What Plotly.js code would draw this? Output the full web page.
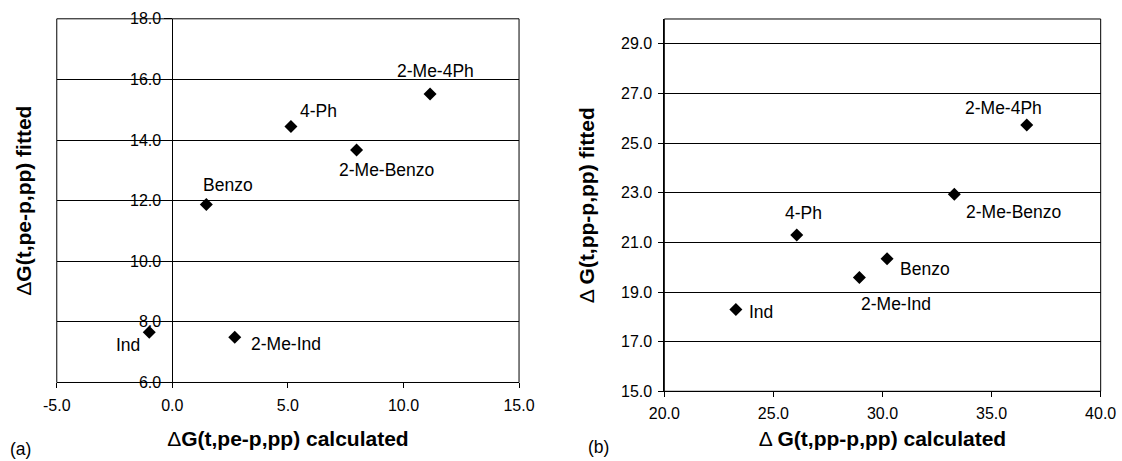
<!DOCTYPE html>
<html><head><meta charset="utf-8">
<script src="https://cdn.plot.ly/plotly-3.0.1.min.js"></script>
<style>html,body{margin:0;padding:0;background:#fff}#chart{width:1122px;height:461px}</style>
</head><body><div id="chart"></div>
<script>
// Panel (a)
const labelsA = ['Ind', '2-Me-Ind', 'Benzo', '4-Ph', '2-Me-Benzo', '2-Me-4Ph'];
const calcA = [-1.0, 2.7, 1.47, 5.13, 7.97, 11.15];
const fitA = [7.66, 7.49, 11.87, 14.45, 13.67, 15.52];
const xTickValsA = [-5, 0, 5, 10, 15];
const xTickTextA = ['-5.0', '0.0', '5.0', '10.0', '15.0'];
// Panel (b)
const labelsB = ['Ind', '4-Ph', '2-Me-Ind', 'Benzo', '2-Me-Benzo', '2-Me-4Ph'];
const calcB = [23.28, 26.07, 28.94, 30.21, 33.29, 36.61];
const fitB = [18.30, 21.30, 19.58, 20.34, 22.94, 25.73];

const xTitleA = 'Δ<b>G(t,pe-p,pp) calculated</b>';
const yTitleA = 'Δ<b>G(t,pe-p,pp) fitted</b>';
const xTitleB = 'Δ <b>G(t,pp-p,pp) calculated</b>';
const yTitleB = 'Δ <b>G(t,pp-p,pp) fitted</b>';

// label offsets in px (style only)
const offA = [[-21,-13],[51,-7],[22,20],[28,15],[30,-20],[5,23]];
const offB = [[25,-3],[7,22],[37,-26],[38,-10],[59,-18],[-23,17]];

const FONT = '"Liberation Sans", Arial, Helvetica, sans-serif';
const domXA = [0.0506, 0.4626], domYA = [0.1703, 0.9592];
const domXB = [0.5921, 0.9810], domYB = [0.1512, 0.9588];
const rangeXA = [-5, 15];
const yPosA = domXA[0] + (0 - rangeXA[0]) / (rangeXA[1] - rangeXA[0]) * (domXA[1] - domXA[0]);

const marker = {symbol: 'diamond', size: 10, color: '#000'};
const traces = [
  {x: calcA, y: fitA, text: labelsA, type: 'scatter', mode: 'markers', marker, xaxis: 'x', yaxis: 'y', cliponaxis: false, hoverinfo: 'text'},
  {x: calcB, y: fitB, text: labelsB, type: 'scatter', mode: 'markers', marker, xaxis: 'x2', yaxis: 'y2', cliponaxis: false, hoverinfo: 'text'}
];

const labelFont = {size: 17.5, color: '#000', family: FONT};
const annotations = [];
labelsA.forEach((t, i) => annotations.push({x: calcA[i], y: fitA[i], xref: 'x', yref: 'y', text: t, showarrow: false,
  xanchor: 'center', yanchor: 'middle', xshift: offA[i][0], yshift: offA[i][1], font: labelFont}));
labelsB.forEach((t, i) => annotations.push({x: calcB[i], y: fitB[i], xref: 'x2', yref: 'y2', text: t, showarrow: false,
  xanchor: 'center', yanchor: 'middle', xshift: offB[i][0], yshift: offB[i][1], font: labelFont}));
annotations.push({x: 0.0185, y: 0.027, xref: 'paper', yref: 'paper', text: '(a)', showarrow: false, xanchor: 'center', yanchor: 'middle', font: labelFont});
annotations.push({x: 0.5333, y: 0.03, xref: 'paper', yref: 'paper', text: '(b)', showarrow: false, xanchor: 'center', yanchor: 'middle', font: labelFont});

const tickfont = {size: 16, color: '#000', family: FONT};
const titlefont = {size: 21, color: '#000', family: FONT};
const layout = {
  width: 1122, height: 461,
  margin: {l: 0, r: 0, t: 0, b: 0},
  paper_bgcolor: '#fff', plot_bgcolor: '#fff',
  showlegend: false,
  font: {family: FONT, color: '#000'},
  xaxis: {domain: domXA, anchor: 'y', range: rangeXA, tickmode: 'array', tickvals: xTickValsA, ticktext: xTickTextA,
    ticks: 'outside', ticklen: 5, tickcolor: '#000', showline: true, linecolor: '#000', linewidth: 1,
    showgrid: false, zeroline: false, tickfont, automargin: false, ticklabelstandoff: 3,
    title: {text: xTitleA, font: titlefont, standoff: 18}},
  yaxis: {domain: domYA, anchor: 'free', position: yPosA, range: [6, 18], tick0: 6, dtick: 2, tickformat: '.1f',
    ticks: 'outside', ticklen: 8, tickcolor: '#000', showline: true, linecolor: '#000', linewidth: 1,
    showgrid: true, gridcolor: '#000', gridwidth: 1, zeroline: false, tickfont, automargin: false,
    title: {text: yTitleA, font: titlefont, standoff: 91}},
  xaxis2: {domain: domXB, anchor: 'y2', range: [20, 40], tick0: 20, dtick: 5, tickformat: '.1f',
    ticks: 'outside', ticklen: 5, tickcolor: '#000', showline: true, linecolor: '#000', linewidth: 1,
    showgrid: false, zeroline: false, tickfont, automargin: false, ticklabelstandoff: 3,
    title: {text: xTitleB, font: titlefont, standoff: 9}},
  yaxis2: {domain: domYB, anchor: 'x2', range: [15, 30], tick0: 15, dtick: 2, tickformat: '.1f',
    ticks: 'outside', ticklen: 5, tickcolor: '#000', showline: true, linecolor: '#000', linewidth: 1,
    showgrid: true, gridcolor: '#000', gridwidth: 1, zeroline: false, tickfont, automargin: false,
    ticklabelstandoff: 3,
    title: {text: yTitleB, font: titlefont, standoff: 20}},
  shapes: [
    {type: 'rect', xref: 'x domain', yref: 'y domain', x0: 0, x1: 1, y0: 0, y1: 1, line: {color: '#000', width: 1}},
    {type: 'rect', xref: 'x2 domain', yref: 'y2 domain', x0: 0, x1: 1, y0: 0, y1: 1, line: {color: '#000', width: 1}}
  ],
  annotations
};
Plotly.newPlot('chart', traces, layout, {displayModeBar: false, staticPlot: true});
</script>
</body></html>
